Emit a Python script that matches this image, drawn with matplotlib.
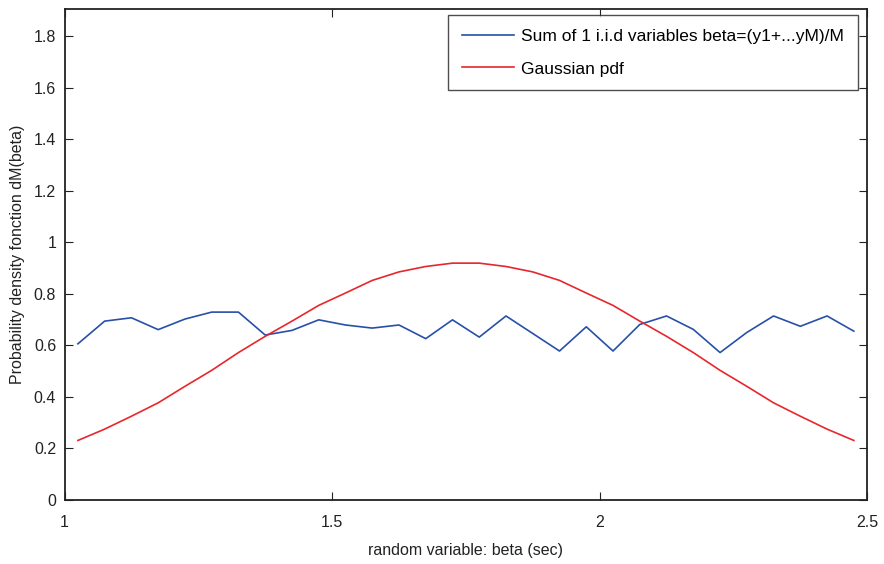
import matplotlib
matplotlib.use("Agg")
import matplotlib.pyplot as plt
import numpy as np

plt.rcParams['font.family'] = ['Liberation Sans', 'DejaVu Sans']

beta = [1.025, 1.075, 1.125, 1.175, 1.225, 1.275, 1.325, 1.375, 1.425, 1.475,
        1.525, 1.575, 1.625, 1.675, 1.725, 1.775, 1.825, 1.875, 1.925, 1.975,
        2.025, 2.075, 2.125, 2.175, 2.225, 2.275, 2.325, 2.375, 2.425, 2.475]
sum_pdf = [0.606, 0.694, 0.707, 0.661, 0.702, 0.729, 0.729, 0.640, 0.658, 0.699,
           0.679, 0.667, 0.679, 0.626, 0.699, 0.632, 0.714, 0.646, 0.578, 0.672,
           0.578, 0.681, 0.714, 0.662, 0.572, 0.650, 0.714, 0.674, 0.714, 0.655]
gauss_pdf = [0.231, 0.275, 0.325, 0.377, 0.441, 0.503, 0.572, 0.635, 0.694, 0.755,
             0.803, 0.852, 0.885, 0.906, 0.919, 0.919, 0.906, 0.885, 0.852, 0.803,
             0.755, 0.694, 0.635, 0.572, 0.503, 0.441, 0.377, 0.325, 0.275, 0.231]
xticks = [1, 1.5, 2, 2.5]
xticklabels = ['1', '1.5', '2', '2.5']
yticks = [0, 0.2, 0.4, 0.6, 0.8, 1.0, 1.2, 1.4, 1.6, 1.8]
yticklabels = ['0', '0.2', '0.4', '0.6', '0.8', '1', '1.2', '1.4', '1.6', '1.8']

fig = plt.figure(figsize=(8.84, 5.64), dpi=100)
ax = fig.add_axes([0.073, 0.1135, 0.908, 0.8705])

ax.plot(beta, sum_pdf, color='#2850a8', lw=1.2,
        label='Sum of 1 i.i.d variables beta=(y1+...yM)/M')
ax.plot(beta, gauss_pdf, color='#e8262c', lw=1.2, label='Gaussian pdf')

ax.set_xlim(1, 2.5)
ax.set_ylim(0, 1.905)
ax.set_xticks(xticks)
ax.set_xticklabels(xticklabels)
ax.set_yticks(yticks)
ax.set_yticklabels(yticklabels)
ax.tick_params(direction='in', top=True, right=True, length=6, width=0.8,
               labelsize=11.5, colors='#222222')
ax.tick_params(axis='x', pad=11)
ax.tick_params(axis='y', pad=6)
for s in ax.spines.values():
    s.set_linewidth(1.3)
    s.set_color('#222222')

ax.set_xlabel('random variable: beta (sec)', fontsize=11.5, color='#222222', labelpad=9)
ax.set_ylabel('Probability density fonction dM(beta)', fontsize=11.5, color='#222222', labelpad=6)

leg = ax.legend(loc='upper right', bbox_to_anchor=(858 / 884, 1 - 15 / 564),
                bbox_transform=fig.transFigure, borderaxespad=0.0,
                fontsize=12.5, frameon=True, fancybox=False,
                edgecolor='#222222', handlelength=3.0, handletextpad=0.4,
                borderpad=0.8, labelspacing=1.0)
leg.get_frame().set_linewidth(1.0)

fig.savefig('out.png', dpi=100)
